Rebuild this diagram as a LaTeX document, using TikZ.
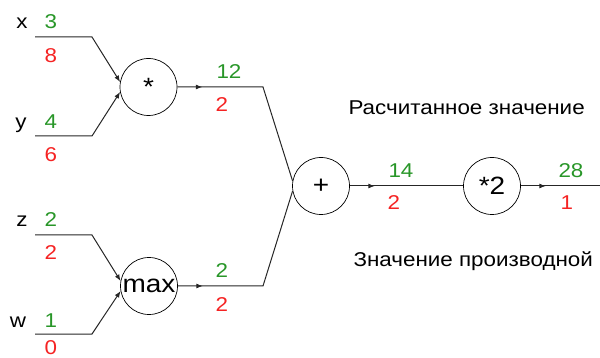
\documentclass[tikz,border=0pt]{standalone}
\usepackage{fontspec}
\setmainfont[FakeStretch=1.12]{Liberation Sans}
\usetikzlibrary{arrows.meta,decorations.markings}

\definecolor{valgreen}{RGB}{40,150,40}
\definecolor{gradred}{RGB}{245,35,35}

\begin{document}
\begin{tikzpicture}[x=1pt,y=-1pt,
	op/.style={draw, circle, line width=0.7pt, minimum size=57pt, inner sep=0pt, font=\fontsize{25}{25}\selectfont},
	wire/.style={line width=1pt, black!85},
	inwire/.style={wire, -{Latex[length=6.5pt,width=5pt]}},
	outwire/.style={wire, postaction={decorate}, decoration={markings, mark=at position 25pt with {\arrow{Latex[length=6.5pt,width=5pt]}}}},
	lbl/.style={anchor=base, font=\fontsize{20}{20}\selectfont},
	fwd/.style={lbl, anchor=base west, text=valgreen},
	bwd/.style={lbl, anchor=base west, text=gradred}]
	\useasboundingbox (0,0) rectangle (600,358);

	% operations
	\node[op] (mul) at (148.5,87) {*};
	\node[op] (max) at (149,286) {max};
	\node[op] (add) at (321,186) {+};
	\node[op] (dbl) at (492,186) {*2};

	% inputs
	\coordinate (xin) at (35,37);
	\coordinate (yin) at (35,136);
	\coordinate (zin) at (35,235);
	\coordinate (win) at (35,334);
	\draw[inwire] (xin) -- (92,37) -- (mul.170);
	\draw[inwire] (yin) -- (92,136) -- (mul.190);
	\draw[inwire] (zin) -- (92,235) -- (max.170);
	\draw[inwire] (win) -- (92,334) -- (max.190);

	\node[lbl] (xname) at (22,29) {x};
	\node[fwd] (xval) at (41,29) {3};
	\node[bwd] (xgrad) at (41,63) {8};
	\node[lbl] (yname) at (21,129) {y};
	\node[fwd] (yval) at (41,129) {4};
	\node[bwd] (ygrad) at (41,162) {6};
	\node[lbl] (zname) at (22,227) {z};
	\node[fwd] (zval) at (41,227) {2};
	\node[bwd] (zgrad) at (41,260) {2};
	\node[lbl] (wname) at (18,327) {w};
	\node[fwd] (wval) at (41,327) {1};
	\node[bwd] (wgrad) at (41,354) {0};

	% intermediate and output wires
	\coordinate (out) at (600,186);
	\draw[outwire] (mul) -- (263,87) -- (add.170);
	\draw[outwire] (max) -- (263,286) -- (add.190);
	\draw[outwire] (add) -- (dbl);
	\draw[outwire] (dbl) -- (out);

	\node[fwd] (mulval) at (213,79) {12};
	\node[bwd] (mulgrad) at (212,112) {2};
	\node[fwd] (maxval) at (212,277) {2};
	\node[bwd] (maxgrad) at (212,311) {2};
	\node[fwd] (addval) at (385,178) {14};
	\node[bwd] (addgrad) at (384,210) {2};
	\node[fwd] (dblval) at (555,178) {28};
	\node[bwd] (dblgrad) at (557,210) {1};

	% legend
	\node[lbl, anchor=base west] (fwdnote) at (345,115) {Расчитанное значение};
	\node[lbl, anchor=base west] (bwdnote) at (350,266) {Значение производной};
\end{tikzpicture}
\end{document}
